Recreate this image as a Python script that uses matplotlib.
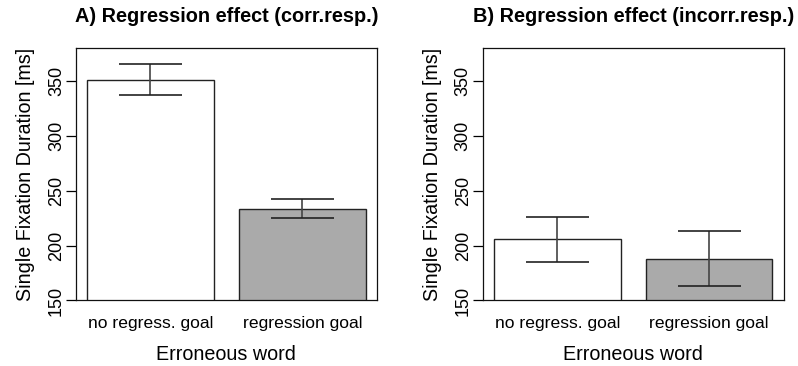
import numpy as np
import matplotlib.pyplot as plt

plt.rcParams['font.family'] = ['Liberation Sans', 'DejaVu Sans']

conditions = ['no regress. goal', 'regression goal']
bar_colors = ['white', '#aaaaaa']

titles = ['A) Regression effect (corr.resp.)', 'B) Regression effect (incorr.resp.)']
means = [[351, 233.5], [206, 188]]
err_low = [[337.3, 225], [185.2, 163]]
err_high = [[365.5, 242.2], [226.4, 213.4]]

y_ticks = [150, 200, 250, 300, 350]

fig = plt.figure(figsize=(7.98, 3.66), dpi=100)
lefts = [0.0952, 0.605]
width = 0.377

# R style barplot positions: width 1, space 0.2
x = np.array([0.7, 1.9])

for i in range(2):
    ax = fig.add_axes([lefts[i], 0.179, width, 0.69])
    ax.bar(x, means[i], width=1.0, color=bar_colors,
           edgecolor='#222222', linewidth=1.0, zorder=2)
    lo = np.array(err_low[i])
    hi = np.array(err_high[i])
    ax.vlines(x, lo, hi, color='#444444', linewidth=1.2, zorder=3)
    ax.hlines(lo, x - 0.25, x + 0.25, color='#222222', linewidth=1.2, zorder=3)
    ax.hlines(hi, x - 0.25, x + 0.25, color='#222222', linewidth=1.2, zorder=3)

    ax.set_xlim(0.112, 2.488)
    ax.set_ylim(150, 380)
    ax.set_yticks(y_ticks)
    ax.set_yticklabels([str(t) for t in y_ticks], rotation=90, va='center', fontsize=13)
    ax.set_xticks(x)
    ax.set_xticklabels(conditions, fontsize=12.6)
    ax.tick_params(axis='x', length=0, pad=11)
    ax.tick_params(axis='y', length=7, width=0.9, pad=1)
    for s in ax.spines.values():
        s.set_linewidth(0.9)
        s.set_color('#111111')
    ax.set_ylabel('Single Fixation Duration [ms]', fontsize=14.2, labelpad=9)
    ax.set_xlabel('Erroneous word', fontsize=14.2, labelpad=10)
    ax.set_title(titles[i], fontsize=14.3, fontweight='bold', pad=19)

fig.savefig('out.png', dpi=100)
